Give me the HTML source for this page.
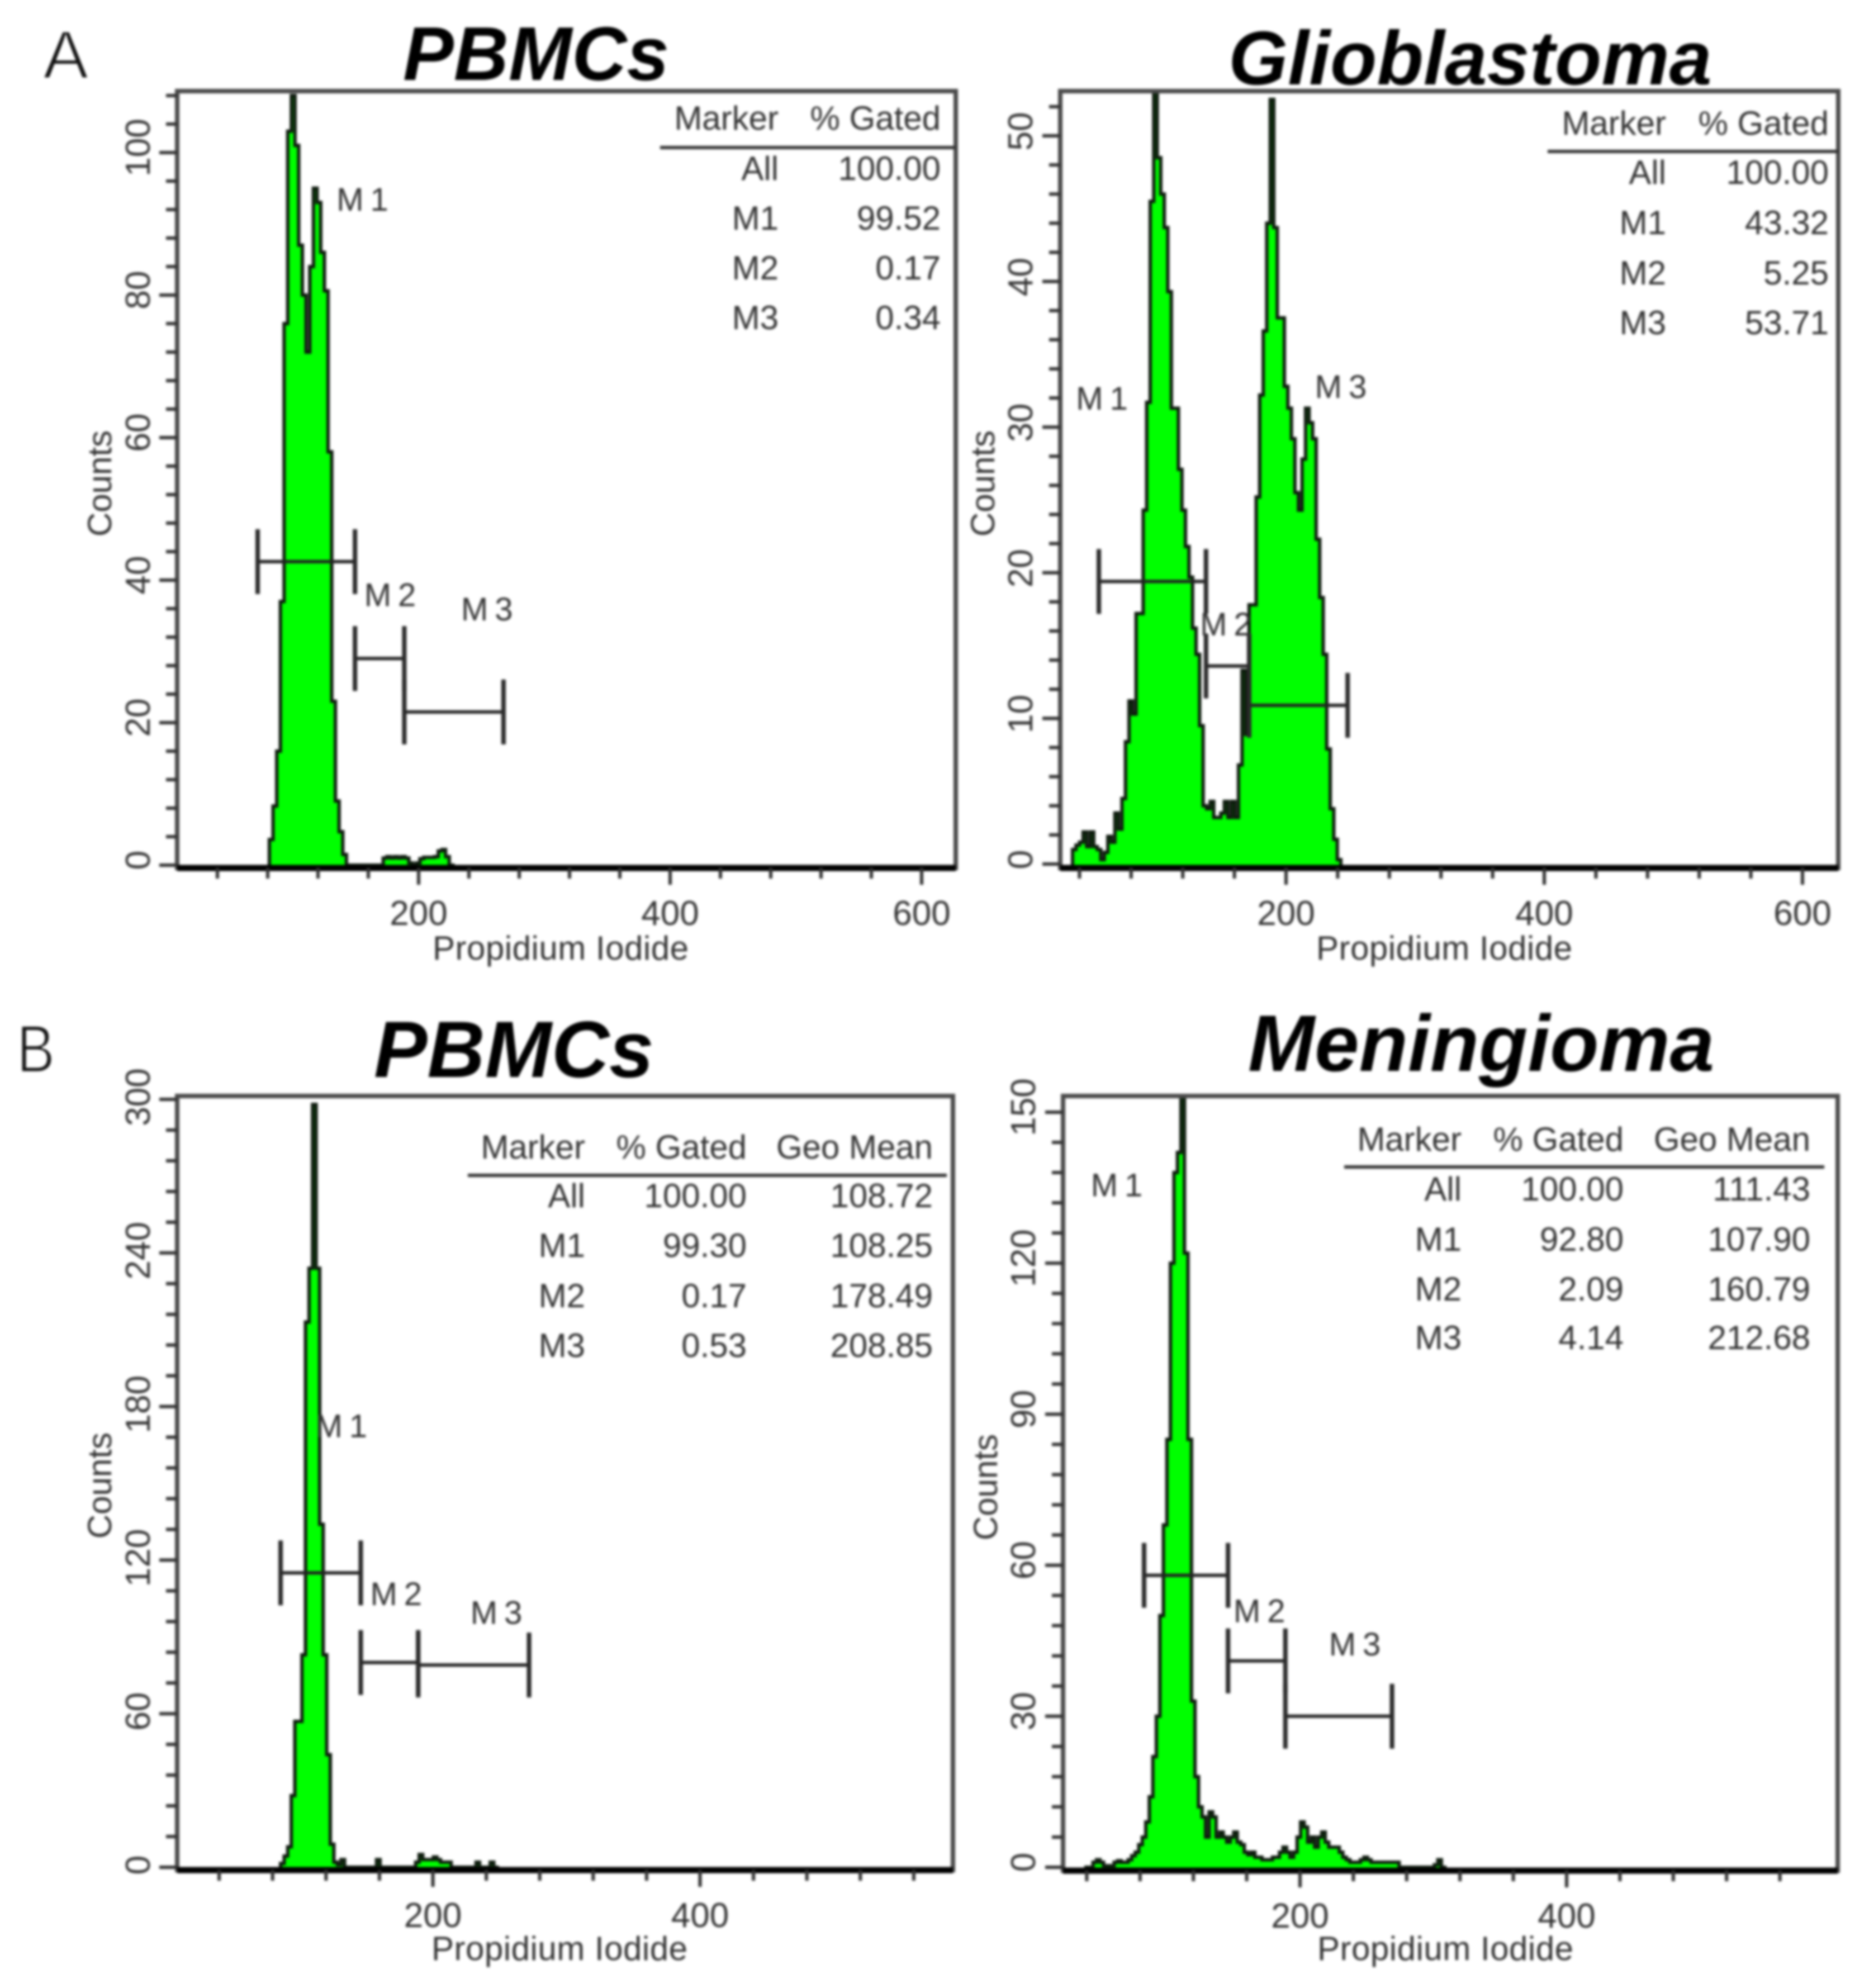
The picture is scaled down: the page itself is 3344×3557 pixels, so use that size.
<!DOCTYPE html>
<html lang="en">
<head>
<meta charset="utf-8">
<title>Propidium iodide cell cycle histograms</title>
<style>
html,body{margin:0;padding:0;background:#fff}
#figure{display:block;width:3344px;height:3557px;filter:blur(2.5px)}
text{font-family:"Liberation Sans",sans-serif;fill:#333}
.title{font-weight:bold;font-style:italic;fill:#000}
.letter{fill:#111;stroke:#fff;stroke-width:3px}
.cell{font-size:60px;text-anchor:end}
.axis-title{font-size:60px;text-anchor:middle}
.rule{stroke:#333;stroke-width:6}
</style>
</head>
<body>
<svg id="figure" xmlns="http://www.w3.org/2000/svg" width="3344" height="3557" viewBox="0 0 3344 3557">
<rect x="0" y="0" width="3344" height="3557" fill="#fff"/>
<g id="plots"></g>

<text class="letter" x="77" y="140" font-size="122">A</text>
<text class="letter" x="30" y="1918" font-size="120" textLength="68" lengthAdjust="spacingAndGlyphs">B</text>
<text class="title" x="721" y="143" font-size="136">PBMCs</text>
<text class="title" x="2198" y="151" font-size="136.5">Glioblastoma</text>
<text class="title" x="669" y="1927" font-size="143">PBMCs</text>
<text class="title" x="2233" y="1916" font-size="143">Meningioma</text>

<text class="axis-title" x="1003" y="1717" textLength="458">Propidium Iodide</text>
<text class="axis-title" x="2584" y="1717" textLength="458">Propidium Iodide</text>
<text class="axis-title" x="1001" y="3507" textLength="458">Propidium Iodide</text>
<text class="axis-title" x="2586" y="3507" textLength="458">Propidium Iodide</text>
<text class="axis-title" transform="translate(199 865) rotate(-90)">Counts</text>
<text class="axis-title" transform="translate(1779 865) rotate(-90)">Counts</text>
<text class="axis-title" transform="translate(199 2658) rotate(-90)">Counts</text>
<text class="axis-title" transform="translate(1784 2661) rotate(-90)">Counts</text>

<g>
<line class="rule" x1="1181" y1="264" x2="1710" y2="264"/>
<text class="cell" x="1393" y="232">Marker</text>
<text class="cell" x="1683" y="232">% Gated</text>
<text class="cell" x="1393" y="322">All</text>
<text class="cell" x="1683" y="322">100.00</text>
<text class="cell" x="1393" y="411">M1</text>
<text class="cell" x="1683" y="411">99.52</text>
<text class="cell" x="1393" y="500">M2</text>
<text class="cell" x="1683" y="500">0.17</text>
<text class="cell" x="1393" y="589">M3</text>
<text class="cell" x="1683" y="589">0.34</text>
</g>

<g>
<line class="rule" x1="2769" y1="271" x2="3289" y2="271"/>
<text class="cell" x="2981" y="241">Marker</text>
<text class="cell" x="3272" y="241">% Gated</text>
<text class="cell" x="2981" y="329">All</text>
<text class="cell" x="3272" y="329">100.00</text>
<text class="cell" x="2981" y="419">M1</text>
<text class="cell" x="3272" y="419">43.32</text>
<text class="cell" x="2981" y="509">M2</text>
<text class="cell" x="3272" y="509">5.25</text>
<text class="cell" x="2981" y="598">M3</text>
<text class="cell" x="3272" y="598">53.71</text>
</g>

<g>
<line class="rule" x1="837" y1="2103" x2="1694" y2="2103"/>
<text class="cell" x="1047" y="2073">Marker</text>
<text class="cell" x="1336" y="2073">% Gated</text>
<text class="cell" x="1669" y="2073">Geo Mean</text>
<text class="cell" x="1047" y="2160">All</text>
<text class="cell" x="1336" y="2160">100.00</text>
<text class="cell" x="1669" y="2160">108.72</text>
<text class="cell" x="1047" y="2249">M1</text>
<text class="cell" x="1336" y="2249">99.30</text>
<text class="cell" x="1669" y="2249">108.25</text>
<text class="cell" x="1047" y="2339">M2</text>
<text class="cell" x="1336" y="2339">0.17</text>
<text class="cell" x="1669" y="2339">178.49</text>
<text class="cell" x="1047" y="2428">M3</text>
<text class="cell" x="1336" y="2428">0.53</text>
<text class="cell" x="1669" y="2428">208.85</text>
</g>

<g>
<line class="rule" x1="2405" y1="2088" x2="3264" y2="2088"/>
<text class="cell" x="2615" y="2059">Marker</text>
<text class="cell" x="2905" y="2059">% Gated</text>
<text class="cell" x="3239" y="2059">Geo Mean</text>
<text class="cell" x="2615" y="2148">All</text>
<text class="cell" x="2905" y="2148">100.00</text>
<text class="cell" x="3239" y="2148">111.43</text>
<text class="cell" x="2615" y="2238">M1</text>
<text class="cell" x="2905" y="2238">92.80</text>
<text class="cell" x="3239" y="2238">107.90</text>
<text class="cell" x="2615" y="2327">M2</text>
<text class="cell" x="2905" y="2327">2.09</text>
<text class="cell" x="3239" y="2327">160.79</text>
<text class="cell" x="2615" y="2414">M3</text>
<text class="cell" x="2905" y="2414">4.14</text>
<text class="cell" x="3239" y="2414">212.68</text>
</g>
</svg>

<script>
// ---------- data ----------
const markerNames = ['M1', 'M2', 'M3'];

const pbmcACounts = [3.6,8.3,16,37,76,103,108,101,87,80,72,84,95,93,86,80.6,58,23,9,4.7,1.5,0,0,0,0,0,0,0,0,0,0,1,1.2,1,1.2,1,1.2,1,0.3,0,0.3,0.9,1.1,1.1,1.1,1.2,2,2.2,1.2,0];
const pbmcAXMajor = [200,400,600];
const pbmcAYMajor = [0,20,40,60,80,100];
const pbmcAGateStart = [72,149.4,188.6];
const pbmcAGateEnd = [149.4,188.6,267.5];
const pbmcAGateLevel = [42.6,29,21.5];
const pbmcALabelChannel = [158,180,257];
const pbmcALabelCount = [93.5,38,36];

const glioCounts = [1,1.3,1.5,2.2,1.2,2.2,1.2,1,0.3,0.8,1.9,1.5,3.5,2.4,4.5,8.4,11.2,10.3,17.2,17.2,24.3,31.7,45.5,53,48.5,46,43.7,39.3,31.3,31.3,27.1,24.3,21.8,19.7,16.2,14.4,9.5,4,3.8,4.3,3.2,3.2,3.5,4.3,3.2,4.3,3.2,6.8,13.3,8.9,17.8,17.8,25.2,32.2,36.6,44,52.5,43.7,37.5,37.5,32.8,31.3,29.2,25.5,24.3,27.8,31.3,30.3,29.2,22.3,18.3,14.4,7.9,3.8,1.7,0.3];
const glioXMajor = [200,400,600];
const glioYMajor = [0,10,20,30,40,50];
const glioGateStart = [55,138,171.4];
const glioGateEnd = [138,171.4,247.7];
const glioGateLevel = [19.4,13.6,10.9];
const glioLabelChannel = [60,156,245];
const glioLabelCount = [32,16.5,32.8];

const pbmcBCounts = [1.5,4.4,8,28,57,57,83,213,234,298,234,134,83,44,9,2,1,3,0,0,0,0,0,0,0,0,0,3,0,0,0,0,0,0,0,0,0,0,2,5,3,3,3,4,3,2,2,2,0,0,0,0,0,0,0,2,0,0,0,2,0];
const pbmcBXMajor = [200,400];
const pbmcBYMajor = [0,60,120,180,240,300];
const pbmcBGateStart = [86,146,189];
const pbmcBGateEnd = [146,189,272];
const pbmcBGateLevel = [115,80,79];
const pbmcBLabelChannel = [134,175,250];
const pbmcBLabelCount = [172.6,107,99.7];

const meningCounts = [0,0,1,1.5,1,0.3,0.3,0.3,1,1.3,1,1,1.5,2.3,3,4.5,6,9,14,22,30,50,68,85,120,138,142,153,122,85,33,18,12,10,6,11,10,6,7,6,5,6,7,5,4.5,3,2.5,3,2,2,1.5,1.5,1.5,2,2,3,4,3,2,3,6,9,8,5,6,4,6,7,5,4,4,4,3,2,1.5,1,1,1,1.5,2,1.5,1,1,1,1,1,1,1,1,0,0,0,0,0,0,0,0,0,0,0.5,1.5,0];
const meningXMajor = [200,400];
const meningYMajor = [0,30,60,90,120,150];
const meningGateStart = [83,146,189];
const meningGateEnd = [146,189,269];
const meningGateLevel = [58,41,30];
const meningLabelChannel = [65,172,243.6];
const meningLabelCount = [135.6,51,44.4];

// ---------- drawing ----------
const NS = 'http://www.w3.org/2000/svg';
const plots = document.getElementById('plots');

function make(tag, parent, attrs, text) {
  const el = document.createElementNS(NS, tag);
  for (const k in attrs) el.setAttribute(k, attrs[k]);
  if (text !== undefined) el.textContent = text;
  parent.appendChild(el);
  return el;
}

function drawPanel(p) {
  const x = v => p.x200 + (v - 200) * p.xScale;
  const y = c => p.y0 - c * p.yScale;

  const g = make('g', plots, {});
  
  

  // histogram
  let d = 'M' + x(p.binStart) + ' ' + p.bottom;
  p.counts.forEach(function (c, i) {
    const top = Math.min(y(c), p.bottom);
    d += 'L' + x(p.binStart + i * p.binWidth) + ' ' + top;
    d += 'L' + x(p.binStart + (i + 1) * p.binWidth) + ' ' + top;
  });
  d += 'L' + x(p.binStart + p.counts.length * p.binWidth) + ' ' + p.bottom + 'Z';
  const hist = make('path', g, { d: d, fill: '#00ff00', stroke: '#0e1a0e', 'stroke-width': 6, 'stroke-linejoin': 'miter' });
  
  

  // frame
  const frame = make('rect', g, { x: p.left, y: p.top, width: p.right - p.left, height: p.bottom - p.top, fill: 'none', stroke: '#4a4a4a', 'stroke-width': 8 });
  
  
  const base = make('line', g, { x1: p.left, y1: p.bottom, x2: p.right, y2: p.bottom, stroke: '#000', 'stroke-width': 11 });
  
  

  // x ticks
  for (let v = 40; v <= p.xMinorMax; v += 40) {
    const major = p.xMajor.indexOf(v) >= 0;
    const tick = make('line', g, { x1: x(v), y1: p.bottom, x2: x(v), y2: p.bottom + (major ? 30 : 19), stroke: '#333', 'stroke-width': 6 });
    
    
  }
  p.xMajor.forEach(function (v) {
    const label = make('text', g, { x: x(v), y: p.xLabelY, 'font-size': 62, 'text-anchor': 'middle' }, String(v));
    
    
  });

  // y ticks
  for (let c = 0; c <= p.yMinorMax; c += p.yMinorStep) {
    const major = p.yMajor.indexOf(c) >= 0;
    const tick = make('line', g, { x1: p.left, y1: y(c), x2: p.left - (major ? 32 : 20), y2: y(c), stroke: '#333', 'stroke-width': 6 });
    
    
  }
  p.yMajor.forEach(function (c) {
    const label = make('text', g, { 'font-size': 62, 'text-anchor': 'middle', transform: 'translate(' + p.yLabelX + ' ' + (y(c) + p.yLabelShift) + ') rotate(-90)' }, String(c));
    
    
  });

  // marker gates
  markerNames.forEach(function (m, i) {
    const gy = y(p.gateLevel[i]);
    const x1 = x(p.gateStart[i]);
    const x2 = x(p.gateEnd[i]);
    const bar = make('line', g, { x1: x1, y1: gy, x2: x2, y2: gy, stroke: '#222', 'stroke-width': 6 });
    
    
    const capL = make('line', g, { x1: x1, y1: gy - 58, x2: x1, y2: gy + 58, stroke: '#2a2a2a', 'stroke-width': 8 });
    
    
    const capR = make('line', g, { x1: x2, y1: gy - 58, x2: x2, y2: gy + 58, stroke: '#2a2a2a', 'stroke-width': 8 });
    
    
    const label = make('text', g, { x: x(p.labelChannel[i]), y: y(p.labelCount[i]) + 21, 'font-size': 58, 'text-anchor': 'middle', 'letter-spacing': 12 }, m);
    
    
  });
}

drawPanel({
  name: 'histogram-pbmcs-a', left: 317, right: 1710, top: 163, bottom: 1553,
  x200: 749, xScale: 2.25, y0: 1548, yScale: 12.75,
  binStart: 81.3, binWidth: 2.92, counts: pbmcACounts,
  xMajor: pbmcAXMajor, xMinorMax: 600, xLabelY: 1655,
  yMajor: pbmcAYMajor, yMinorStep: 4, yMinorMax: 108, yLabelX: 268, yLabelShift: -9,
  gateStart: pbmcAGateStart, gateEnd: pbmcAGateEnd, gateLevel: pbmcAGateLevel,
  labelChannel: pbmcALabelChannel, labelCount: pbmcALabelCount
});
drawPanel({
  name: 'histogram-glioblastoma', left: 1897, right: 3289, top: 163, bottom: 1553,
  x200: 2301, xScale: 2.31, y0: 1546, yScale: 26.06,
  binStart: 34.6, binWidth: 2.735, counts: glioCounts,
  xMajor: glioXMajor, xMinorMax: 600, xLabelY: 1655,
  yMajor: glioYMajor, yMinorStep: 2, yMinorMax: 52, yLabelX: 1847, yLabelShift: -8,
  gateStart: glioGateStart, gateEnd: glioGateEnd, gateLevel: glioGateLevel,
  labelChannel: glioLabelChannel, labelCount: glioLabelCount
});
drawPanel({
  name: 'histogram-pbmcs-b', left: 317, right: 1705, top: 1961, bottom: 3346,
  x200: 774.5, xScale: 2.39, y0: 3341, yScale: 4.58,
  binStart: 86, binWidth: 2.66, counts: pbmcBCounts,
  xMajor: pbmcBXMajor, xMinorMax: 560, xLabelY: 3448,
  yMajor: pbmcBYMajor, yMinorStep: 12, yMinorMax: 300, yLabelX: 268, yLabelShift: -4,
  gateStart: pbmcBGateStart, gateEnd: pbmcBGateEnd, gateLevel: pbmcBGateLevel,
  labelChannel: pbmcBLabelChannel, labelCount: pbmcBLabelCount
});
drawPanel({
  name: 'histogram-meningioma', left: 1902, right: 3288, top: 1961, bottom: 3347,
  x200: 2326, xScale: 2.385, y0: 3341, yScale: 9.007,
  binStart: 39.4, binWidth: 2.64, counts: meningCounts,
  xMajor: meningXMajor, xMinorMax: 560, xLabelY: 3449,
  yMajor: meningYMajor, yMinorStep: 6, yMinorMax: 150, yLabelX: 1852, yLabelShift: -9,
  gateStart: meningGateStart, gateEnd: meningGateEnd, gateLevel: meningGateLevel,
  labelChannel: meningLabelChannel, labelCount: meningLabelCount
});
</script>
</body>
</html>
